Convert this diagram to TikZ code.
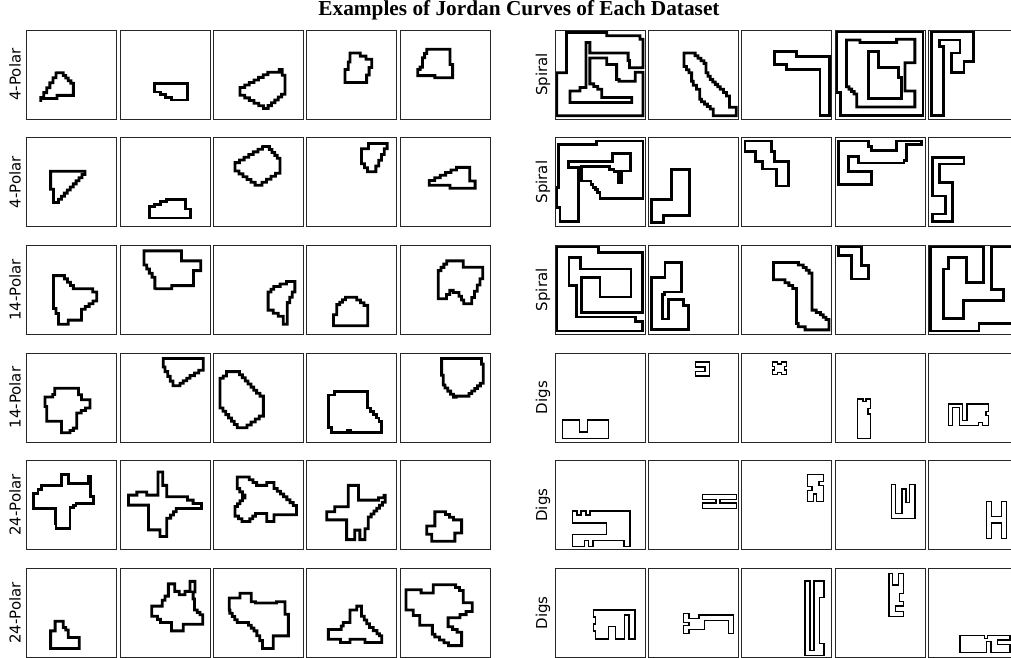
\documentclass[tikz,border=0pt]{standalone}
\usepackage{fontspec}
\setmainfont{Liberation Serif}
\newfontfamily\labfont{DejaVu Sans}
\newcommand\jbuild[1]{%
  \gdef\pacc{}%
  \foreach \px/\py [count=\n] in {#1}{%
    \ifnum\n=1\relax
      \xdef\pacc{(\px,\py)}%
    \else
      \pgfmathsetmacro\ddx{\px-\lastx}%
      \pgfmathsetmacro\ddy{\py-\lasty}%
      \pgfmathtruncatemacro\kk{max(1,round(min(abs(\ddx),abs(\ddy))))}%
      \pgfmathsetmacro\sx{\ddx/\kk}%
      \pgfmathsetmacro\sy{\ddy/\kk}%
      \foreach \i in {1,...,\kk}{%
        \pgfmathsetmacro\ax{\lastx+\i*\sx}%
        \pgfmathsetmacro\ay{\lasty+\i*\sy}%
        \pgfmathsetmacro\by{\lasty+(\i-1)*\sy}%
        \ifdim\sx pt=0pt\else\xdef\pacc{\pacc -- (\ax,\by)}\fi
        \ifdim\sy pt=0pt\else\xdef\pacc{\pacc -- (\ax,\ay)}\fi
      }%
    \fi
    \xdef\lastx{\px}\xdef\lasty{\py}%
  }%
}
\newcommand\jpoly[1]{\jbuild{#1}\draw[jc] \pacc -- cycle;}
\newcommand\pan[4]{%
  \begin{scope}[shift={(#1,#2)},#3]#4\end{scope}%
  \draw[frame] (#1,#2) rectangle ++(90,89);}
\begin{document}
\begin{tikzpicture}[x=1pt,y=-1pt,
  frame/.style={draw=black!85,line width=0.8pt},
  jc/.style={draw=black,line join=miter},
  g32/.style={x=2.8125pt,y=-2.78125pt,line width=2.8pt},
  g64/.style={x=1.40625pt,y=-1.390625pt,line width=1.4pt},
  lab/.style={rotate=90,font=\labfont\fontsize{15}{15}\selectfont}]
\useasboundingbox (0,0) rectangle (1011,657);
\node[font=\bfseries\fontsize{21.3}{21.3}\selectfont] (title) at (519,10) {Examples of Jordan Curves of Each Dataset};
% labels
\node[lab] (la0) at (15,74.5) {4-Polar};
\node[lab] (la1) at (15,182.1) {4-Polar};
\node[lab] (la2) at (15,289.8) {14-Polar};
\node[lab] (la3) at (15,397.5) {14-Polar};
\node[lab] (la4) at (15,505.1) {24-Polar};
\node[lab] (la5) at (15,612.8) {24-Polar};
\node[lab] (lb0) at (543,74.5) {Spiral};
\node[lab] (lb1) at (543,182.1) {Spiral};
\node[lab] (lb2) at (543,289.8) {Spiral};
\node[lab] (lb3) at (543,397.5) {Digs};
\node[lab] (lb4) at (543,505.1) {Digs};
\node[lab] (lb5) at (543,612.8) {Digs};
% ---------- left grid ----------
% row 0
\pan{26.7}{30}{g32}{\jpoly{10.4/15.4,12.1/15.4,16.6/20.1,16.6/23.5,5/25.8,5/24.3,10.4/15.4}}
\pan{120}{30}{g32}{\jpoly{12.4/19.2,23.9/19.2,23.9/25.2,20.1/25.2,12.4/21.3,12.4/19.2}}
\pan{213.3}{30}{g32}{\jpoly{9.5/20.7,19.4/15.2,23.5/14.2,25.5/18.4,25.5/23.1,19.5/28.2,9.5/22.5,9.5/20.7}}
\pan{306.7}{30}{g32}{\jpoly{15.4/8.3,17/8.3,23.1/11.6,23.1/13.5,21.3/18.9,13.6/18.9,13.6/14.2,14.8/11.5,15.4/8.3}}
\pan{400}{30}{g32}{\jpoly{9.5/6.9,17.8/6.9,17.8/12.4,18.7/12.4,18.7/17.2,12.4/17.2,12.4/16.4,6.3/16.4,6.3/14.2,8/12.5,8/10,9.5/6.9}}
% row 1
\pan{26.7}{137.6}{g32}{\jpoly{8.5/12.1,20.7/12.1,20.7/13.3,11.3/23.3,9.5/23.3,9.5/18.6,8.5/18.6,8.5/12.1}}
\pan{120}{137.6}{g32}{\jpoly{10.4/28.9,25.1/28.9,25.1/25.7,23.2/25.7,23.2/22.2,18.4/22.2,10.4/25.7,10.4/28.9}}
\pan{213.3}{137.6}{g32}{\jpoly{17.5/3.2,19/3.2,23.7/8.5,23.7/12.8,17.3/17.1,16.3/17.1,7.7/11,7.7/9,17.5/3.2}}
\pan{306.7}{137.6}{g32}{\jpoly{19.5/4,22/4,22/2.1,28.6/2.1,28.6/4,24.6/12.3,22.7/12.3,19.5/8,19.5/4}}
\pan{400}{137.6}{g32}{\jpoly{10.4/15.4,20.1/10.7,24.8/10.7,24.8/15.6,26.7/15.6,26.7/18.2,17.8/18.2,17.8/17.1,10.4/17.1,10.4/15.4}}
% row 2
\pan{26.7}{245.3}{g32}{\jpoly{9.5/10.9,12.4/10.9,16.6/15.6,22/15.6,24.9/18,24.9/20,19.5/24,19.5/26.9,14.8/26.9,14.8/28.4,11.3/28.4,11.3/24.5,9.5/21,9.5/10.9}}
\pan{120}{245.3}{g32}{\jpoly{8.5/2,21.9/2,21.9/5.6,28.7/5.6,28.7/9.1,26.1/9.1,26.1/14.5,18.4/15.6,12.4/15.9,12.4/11.5,8.5/5.6,8.5/2}}
\pan{213.3}{245.3}{g32}{\jpoly{19.5/16.8,21.5/14.8,26/13,29/13,29/16.8,26.3/22.5,26.3/28.4,24.9/28.4,24.9/25.5,19.5/22.2,19.5/16.8}}
\pan{306.7}{245.3}{g32}{\jpoly{9.5/28.9,21.7/28.9,21.7/21.6,17.8/18.7,14.8/18.7,10.7/22.2,10.7/25,9.5/25,9.5/28.9}}
\pan{400}{245.3}{g32}{\jpoly{16.6/5.6,22.5/5.6,22.5/7.9,29.4/7.9,29.4/12,25.5/21,23.5/21,21/17,18.9/16.2,16.5/19.2,13.6/19.2,13.6/9.1,16.6/5.6}}
% row 3
\pan{26.7}{353}{g32}{\jpoly{10/12.7,18.4/12.7,18.4/15,19.5/16.8,22.5/16.8,22.5/19.8,17.8/22.5,17.8/27,15.4/28.7,12.4/28.7,12.4/24.5,7.1/24.5,7.1/19.2,6.5/19.2,6.5/15.8,8.5/15.8,10/14,10/12.7}}
\pan{120}{353}{g32}{\jpoly{15.4/2,29.6/2,29.6/6.2,24.9/9.1,21.3/11.8,19.8/11.8,16/5,15.4/3.5,15.4/2}}
\pan{213.3}{353}{g32}{\jpoly{4.7/6.7,8.3/6.7,15.4/14.5,17.8/16.5,17.8/22.7,12/26.9,9.5/26.9,2.4/18.6,2.4/9.1,4.7/7.5,4.7/6.7}}
\pan{306.7}{353}{g32}{\jpoly{10/13.9,21.7/13.9,21.7/19.8,26.7/25.7,26.7/28.7,15.5/28.7,15.5/27.8,14.5/27.8,14.5/28.7,8.9/28.7,8.9/26.9,7.8/26.9,7.8/15.1,10/15.1,10/13.9}}
\pan{400}{353}{g32}{\jpoly{14.8/2,29/2,29/4,29.6/4,29.6/10.9,24.5/15.5,20/15.9,16/11.5,15.4/11.5,15.4/8,14.8/8,14.8/2}}
% row 4
\pan{26.7}{460.6}{g32}{\jpoly{2.4/11.9,4/10.5,5.3/8.9,12.4/8.9,12.4/5.1,14.8/5.1,14.8/8.3,19.5/8.3,21.9/7,21.9/5.6,22.7/5.6,22.7/13,23.7/15.4,18.4/15.4,16.6/17,15.4/20.1,15.4/24.3,11.3/24.3,10.4/22.5,10.1/17.2,2.4/17.2,2.4/11.9}}
\pan{120}{460.6}{g32}{\jpoly{13.5/4.1,15.2/4.1,15.2/8.9,16.6/8.9,16.6/13,22/13,26/15.4,29/15.4,29/17.2,21/17.2,18/20.7,16.6/20.7,16.6/27.3,14.2/27.3,14.2/24.9,10.1/24.9,10.1/16,3/16,3/12.4,5/12.4,6/11.3,8.5/11.3,9.5/12.4,13.5/12.4,13.5/4.1}}
\pan{213.3}{460.6}{g32}{\jpoly{8.5/5.9,11.5/5.9,15.4/8.9,19/8.9,19/7.9,21.6/7.9,21.6/10,25/13,29.6/17.2,29.6/19.5,21.6/19.5,21.6/21.9,19/21.9,19/19,16/19,13/21.9,11.5/21.9,7.7/19,7.7/16.5,11.3/12.4,8.5/8.9,8.5/5.9}}
\pan{306.7}{460.6}{g32}{\jpoly{14.8/8.9,18.4/8.9,18.4/14.2,23.6/14.2,27.5/12.5,27.9/15,21.9/21.3,21.9/24.5,20.7/28.4,18.9/28.4,18.9/25,17.1/25,17.1/28.4,14.2/28.4,14.2/21.3,7.1/21.3,7.1/18.4,10/18.4,10/16.6,14.8/16.6,14.8/8.9}}
\pan{400}{460.6}{g32}{\jpoly{12.4/18.4,14.8/18.4,19/21.3,21.9/22.5,21.9/26,19.5/27,19.5/29,11.3/29,11.3/26.5,9.5/26.5,9.5/23.5,11/23.5,12.4/21,12.4/18.4}}
% row 5
\pan{26.7}{568.3}{g32}{\jpoly{10.1/19,13/19,13/21.3,14.8/23,14.8/24.9,18.7/24.9,18.7/28.8,8.5/28.8,8.5/22.5,10.1/21.5,10.1/19}}
\pan{120}{568.3}{g32}{\jpoly{17.2/5.6,19.5/5.6,19.5/8.3,21.1/9.5,23.1/8.3,24.9/8.3,24.9/4.7,26.7/4.7,26.7/8.5,26/11,26.5/15,29.4/17.5,29.4/20.1,22.5/20.1,22.5/22.5,18.3/22.5,18.3/19.5,15.5/19.5,13.3/17.2,11.3/16,11.3/13.6,14/13.6,15/11.5,16/10,17.2/10,17.2/5.6}}
\pan{213.3}{568.3}{g32}{\jpoly{5.7/10.7,9.5/10.7,9.5/9,12.3/9,13.5/12,15/12.5,22.5/12.5,22.5/12,25.5/12,25.5/16.5,26.7/16.5,26.7/24.3,22.5/24.3,21.3/26,21.3/28.8,17.8/28.8,17.5/26,15.5/22.5,12.5/19.5,8.5/18.5,5.9/15,5.7/10.7}}
\pan{306.7}{568.3}{g32}{\jpoly{15.4/15,17.8/15,17.8/13.6,19.5/13.6,19.5/17.2,22.3/21.3,25/23.5,26.7/25,26.7/26.7,20.7/26.7,20.7/25.5,15.4/25.5,15.4/26.7,12/26.7,12/25.5,7.7/25.5,7.7/22,11.5/22,13/19.5,15.4/19.5,15.4/15}}
\pan{400}{568.3}{g32}{\jpoly{2.1/7.7,7.5/7.7,7.5/8.9,11.8/8.9,11.8/5.9,18.4/5.9,22.5/9,22.5/12.4,25.7/12.4,25.7/15.5,21.3/17.8,17.1/18,17.1/21,21.9/24,21.9/27.8,18.9/27.8,12.4/23.7,11.5/20.5,7/20.5,7/17,4.7/16,4.7/15,2.1/15,2.1/7.7}}
% ---------- right grid: Spiral ----------
\pan{555}{30}{g32}{\jpoly{4.1/15.4,4.1/0.9,18.4/0.9,18.4/2.1,30.2/2.1,30.2/3.3,31.3/3.3,31.3/13.6,27.3/13.6,26.5/11,26/8.3,12.4/8.3,12.4/4.5,11/4.5,11/20.7,8.9/20.7,8.9/21.9,5.3/21.9,5.3/26.1,27.3/26.1,27.3/24.3,16.6/24.3,16.6/21.3,12.4/18.4,12.4/10.1,18.4/10.1,18.4/12.4,21.9/12.4,21.9/17.8,22.8/18.4,28.5/18.4,28.5/15.2,31.3/15.2,31.3/30.8,0.6/30.8,0.6/15.4,4.1/15.4}}
\pan{648.3}{30}{g32}{\jpoly{12.7/8.3,15.6/8.3,19.8/12,20.5/15.4,22/17.8,25.6/21.3,28.9/24.9,28.9/27.8,31.3/27.8,31.3/30.8,23.1/30.8,23.1/28.4,18.9/24.9,18.3/21.3,16/18.4,15.4/15.4,12.7/12,12.7/8.3}}
\pan{741.7}{30}{g32}{\jpoly{11.8/7.7,19.4/7.7,19.4/9.5,29.6/9.5,31.3/10.5,31.3/30.8,27.8/30.8,27.8/14.2,16/14.2,16/12.4,11.8/12.4,11.8/7.7}}
\pan{835}{30}{g32}{\jpoly{0.6/0.6,31.3/0.6,31.3/30.8,2/30.8,2/22.5,0.6/22.5,0.6/0.6}
 \jpoly{4.1/3.6,8.9/3.6,8.9/4.5,21.9/4.5,21.9/3.3,28.4/3.3,28.4/11.8,24.9/11.8,24.9/21.9,28.4/21.9,28.4/27.7,7.7/27.7,7.7/23,4.1/19.5,4.1/3.6}
 \jpoly{11.8/7.7,15.4/7.7,15.4/13.6,22.5/13.6,22.5/17,23.5/18.5,23.5/24.5,11.8/24.5,11.8/7.7}}
\pan{928.3}{30}{g32}{\jpoly{1.2/0.6,16/0.6,16/11.3,12.7/11.3,12.7/15.4,8.3/15.4,8.3/8.3,11.3/8.3,11.3/3.6,4.1/3.6,4.1/5.9,5.3/5.9,5.3/30.8,1.2/30.8,1.2/0.6}}
\pan{555}{137.6}{g32}{\jpoly{1.2/2.6,14.8/2.6,14.8/1.2,31.3/1.2,31.3/21.8,16/21.8,16/19.6,13.5/17,12.8/15.6,9.5/15.6,9.5/10.3,19.5/10.3,19.5/11.5,22.5/13,22.5/16,23.5/16,23.5/12,26.7/12,26.7/5.6,20.5/5.6,20.5/8.5,4.7/8.5,4.7/10.7,8.3/10.7,8.3/30.2,1.8/30.2,1.8/25,0.6/25,0.6/18,1.2/18,1.2/2.6}}
\pan{648.3}{137.6}{g32}{\jpoly{8.3/11.5,14.6/11.5,14.6/28,5.3/28,5.3/30.4,1.2/30.4,1.2/22.2,8.3/22.2,8.3/11.5}}
\pan{741.7}{137.6}{g32}{\jpoly{1.2/1.2,10.7/1.2,10.7/5,11.6/5,11.6/8.5,16.6/8.5,16.6/17.4,12.4/17.4,12.4/11.3,7.5/11.3,7.5/8.5,5/8.5,5/5,1.2/5,1.2/1.2}}
\pan{835}{137.6}{g32}{\jpoly{1.2/1.2,11.8/1.2,11.8/3.3,13/4.7,21.9/4.7,21.9/1.2,30.8/1.2,30.8/2.5,25.5/2.5,25.5/8.3,24.5/9.1,8.3/9.1,8.3/6.8,4.7/6.8,4.7/12.1,13/12.1,13/16.8,1.2/16.8,1.2/1.2}}
\pan{928.3}{137.6}{g32}{\jpoly{1.5/7.1,12.7/7.1,12.7/9.5,4/9.5,4/16,8.7/16,8.7/30.2,1.5/30.2,1.5/27.5,6/27.5,6/21,1.5/21,1.5/7.1}}
\pan{555}{245.3}{g32}{\jpoly{0.6/0.4,15.4/0.4,15.4/2.6,31.2/2.6,31.2/24.3,9.5/24.3,9.5/11.5,16/11.5,16/18.6,27/18.6,27/8.5,9/8.5,9/4.4,5/4.4,5/14.5,7.5/14.5,7.5/25.8,28.5/25.8,28.5/27.3,31.2/27.3,31.2/30.8,0.6/30.8,0.6/0.4}}
\pan{648.3}{245.3}{g32}{\jpoly{5.9/6.2,11.8/6.2,11.8/16.8,6.5/16.8,5/18.5,5/26.5,7.1/26.5,7.1/19.5,12.4/19.5,12.4/21.5,14.2/21.5,14.2/30.4,1.2/30.4,1.2/11.5,5.9/11.5,5.9/6.2}}
\pan{741.7}{245.3}{g32}{\jpoly{11.3/6.2,18.4/6.2,21.9/8,25/11,25/23.3,28/25,31/27.5,31/30.4,25/30.4,20.1/28.1,19.5/25,19.5/15.5,15.4/12.4,11.3/11.5,11.3/6.2}}
\pan{835}{245.3}{g32}{\jpoly{1.2/0.5,9.5/0.5,9.5/7.3,11.8/7.3,11.8/12.1,5.9/12.1,5.9/3.8,1.2/3.8,1.2/0.5}}
\pan{928.3}{245.3}{g32}{\jpoly{0.8/0.4,19.5/0.4,19.5/13.3,13.6/13.3,13.6/4.4,7.1/4.4,7.1/8.5,5.3/8.5,5.3/26.3,12.4/26.3,12.4/19.8,26.7/19.8,26.7/16,22.5/16,22.5/0.6,33/0.6,33/28.2,18/28.2,18/30.8,0.8/30.8,0.8/0.4}}
% ---------- right grid: Digs ----------
\pan{555}{353}{g64}{\jpoly{5.5/48.1,17.3/48.1,17.3/56.9,23/56.9,23/48.1,37.9/48.1,37.9/61.6,5.5/61.6,5.5/48.1}}
\pan{648.3}{353}{g64}{\jpoly{33.6/6.4,43.4/6.4,43.4/16.6,33.6/16.6,33.6/13.5,40.2/13.5,40.2/10.2,33.6/10.2,33.6/6.4}}
\pan{741.7}{353}{g64}{\jpoly{21.8/6.4,25.5/6.4,25.5/7.8,28.3/7.8,28.3/6.4,32/6.4,32/9.6,30.6/9.6,30.6/12.2,32/12.2,32/15.4,28.3/15.4,28.3/14,25.5/14,25.5/15.4,21.8/15.4,21.8/12.2,23.2/12.2,23.2/9.6,21.8/9.6,21.8/6.4}}
\pan{835}{353}{g64}{\jpoly{16.1/33.2,20/33.2,20/35,22/35,22/33.2,25.4/33.2,25.4/40,23.5/40,23.5/44,25.4/44,25.4/61.6,16.1/61.6,16.1/33.2}}
\pan{928.3}{353}{g64}{\jpoly{14.2/36.7,24.5/36.7,24.5/48.5,27.5/48.5,27.5/36.7,42.7/36.7,42.7/42,41/42,41/45,42.7/45,42.7/52.1,38.5/52.1,38.5/50,35.5/50,35.5/52.1,22/52.1,22/39,17/39,17/52.1,14.2/52.1,14.2/36.7}}
\pan{555}{460.6}{g64}{\jpoly{12.6/36.3,15.5/36.3,15.5/39,18.5/39,18.5/36.3,22/36.3,22/39,25/39,25/36.3,53.3/36.3,53.3/61.6,49/61.6,49/57.5,27/57.5,27/61.6,24/61.6,24/57.5,21/57.5,21/61.6,12.6/61.6,12.6/53,36.7/53,36.7/45,12.6/45,12.6/36.3}}
\pan{648.3}{460.6}{g64}{\jpoly{38.4/24.4,62.8/24.4,62.8/28,51/28,51/30.5,62.8/30.5,62.8/34.4,38.4/34.4,38.4/30.5,48/30.5,48/28,38.4/28,38.4/24.4}}
\pan{741.7}{460.6}{g64}{\jpoly{46.9/10.2,58/10.2,58/15,55/15,55/18,58/18,58/29.6,53/29.6,53/24,51/24,51/29.6,46.9/29.6,46.9/21.5,50/21.5,50/18.5,46.9/18.5,46.9/10.2}}
\pan{835}{460.6}{g64}{\jpoly{40.3/17.3,43.2/17.3,43.2/38,47.5/38,47.5/20.5,50.5/20.5,50.5/30,53/30,53/17.3,56.9/17.3,56.9/41.5,40.3/41.5,40.3/17.3}}
\pan{928.3}{460.6}{g64}{\jpoly{41.5/29.6,45/29.6,45/40,52/40,52/29.6,55.7/29.6,55.7/56.2,52/56.2,52/45,45/45,45/56.2,41.5/56.2,41.5/29.6}}
\pan{555}{568.3}{g64}{\jpoly{27.3/29.9,56.9/29.9,56.9/50.9,52.5/50.9,52.5/33.5,49.5/33.5,49.5/50.9,43/50.9,43/42,38/42,38/50.9,29/50.9,29/45,27.3/45,27.3/40,29/40,29/35,27.3/35,27.3/29.9}}
\pan{648.3}{568.3}{g64}{\jpoly{24.9/32.7,29/32.7,29/36,36/36,36/33.5,60.4/33.5,60.4/46.7,57/46.7,57/37.5,40/37.5,40/44,29/44,29/46.7,24.9/46.7,24.9/41,29/41,29/39,24.9/39,24.9/32.7}}
\pan{741.7}{568.3}{g64}{\jpoly{45/9,48.5/9,48.5/59,51.5/59,51.5/9,58.5/9,58.5/21,55.5/21,55.5/54,58.5/54,58.5/62.8,45/62.8,45/9}}
\pan{835}{568.3}{g64}{\jpoly{38.4/3.8,41/3.8,41/12,45/12,45/3.8,48.6/3.8,48.6/18,46/18,46/24,48.6/24,48.6/27,43/27,43/31,48.6/31,48.6/34.6,38.4/34.6,38.4/3.8}}
\pan{928.3}{568.3}{g64}{\jpoly{22.5/48.1,40/48.1,40/50.5,42/50.5,42/48.1,58/48.1,58/51.5,49/51.5,49/55,58/55,58/60.7,44.5/60.7,44.5/52.5,41.5/52.5,41.5/60.7,22.5/60.7,22.5/48.1}}
\end{tikzpicture}
\end{document}
